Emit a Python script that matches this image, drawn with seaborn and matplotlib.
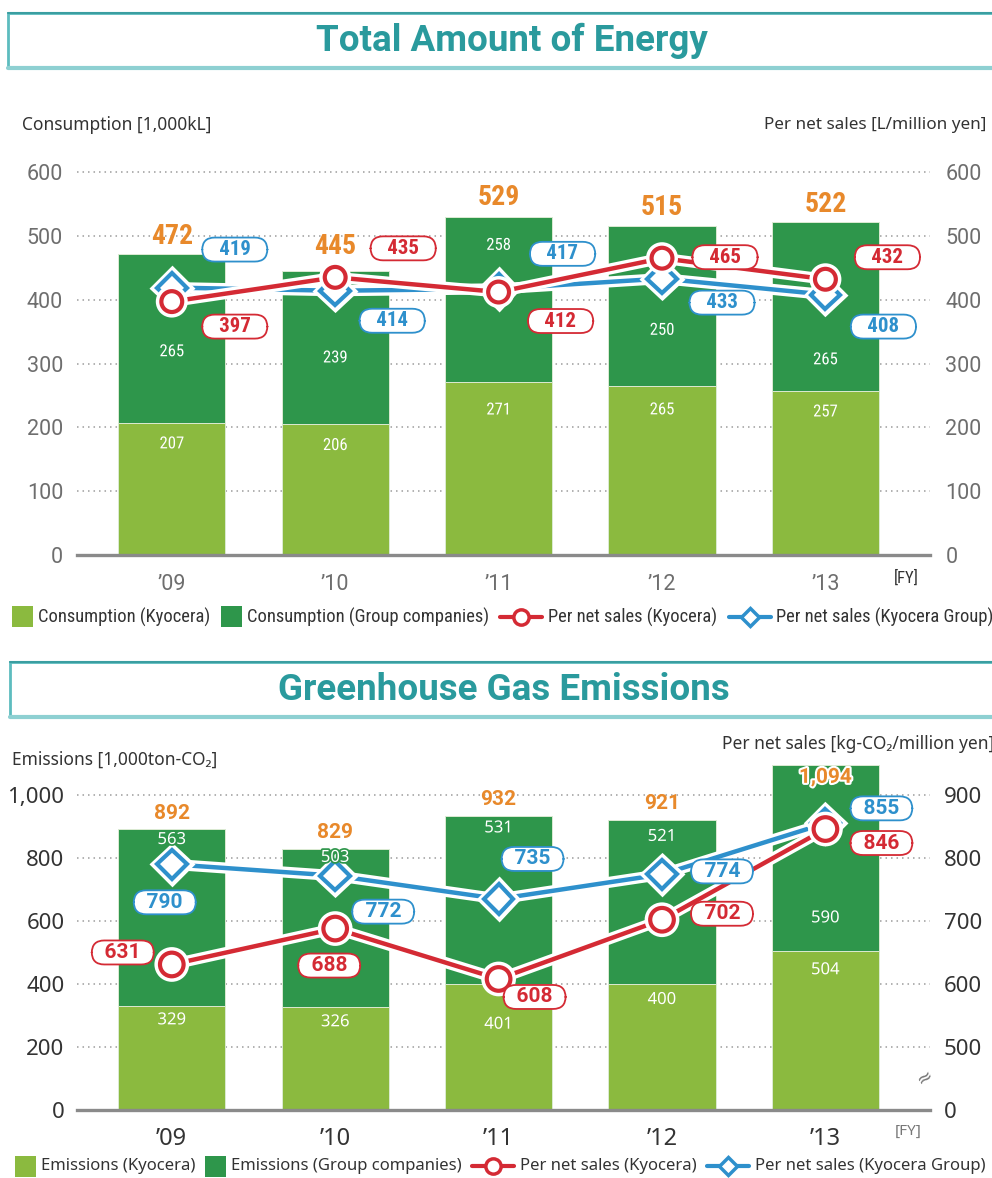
import numpy as np
import matplotlib
matplotlib.use("Agg")
import matplotlib.pyplot as plt
import matplotlib.patheffects as pe
import matplotlib.transforms as mtransforms
from matplotlib.lines import Line2D
from matplotlib.patches import Rectangle
import seaborn as sns

sns.set_theme(style="white")
COND = ["Roboto Condensed", "DejaVu Sans"]
ROBOTO = ["Roboto", "DejaVu Sans"]
SANS = ["Noto Sans", "DejaVu Sans"]
plt.rcParams["font.family"] = SANS

# ---------------- data ----------------
years = ["\u201909", "\u201910", "\u201911", "\u201912", "\u201913"]

energy_kyocera = [207, 206, 271, 265, 257]
energy_group = [265, 239, 258, 250, 265]
energy_total = [472, 445, 529, 515, 522]
energy_per_sales_kyocera = [397, 435, 412, 465, 432]
energy_per_sales_group = [419, 414, 417, 433, 408]

ghg_kyocera = [329, 326, 401, 400, 504]
ghg_group = [563, 503, 531, 521, 590]
ghg_total = [892, 829, 932, 921, 1094]
ghg_per_sales_kyocera = [631, 688, 608, 702, 846]
ghg_per_sales_group = [790, 772, 735, 774, 855]

# ---------------- colours ----------------
LIGHT = "#8BBA3F"
DARK = "#2E964B"
RED = "#D42A34"
BLUE = "#2E90CC"
ORANGE = "#E8892B"
TEAL = "#2A9A9D"
BOX_EDGE = "#5DBCBF"
BOX_TOP = "#3A9EA1"
BOX_SHADOW = "#8ED0D2"
GRID = "#9C9C9C"
TXT = "#333333"

W, H = 992, 1178
fig = plt.figure(figsize=(W / 100, H / 100), dpi=100)


def fx(px):
    return px / W


def fy(py):
    return 1 - py / H


def title_box(y_top, y_bot, x_left, text, text_x):
    fig.add_artist(Rectangle((fx(x_left), fy(y_bot)), 1.2, (y_bot - y_top) / H,
                             transform=fig.transFigure, facecolor="white",
                             edgecolor=BOX_EDGE, lw=2))
    fig.add_artist(Line2D([fx(x_left), 1.0], [fy(y_bot + 1), fy(y_bot + 1)],
                          color=BOX_SHADOW, lw=3, transform=fig.transFigure))
    fig.add_artist(Line2D([fx(x_left), 1.0], [fy(y_top), fy(y_top)],
                          color=BOX_TOP, lw=1.5, transform=fig.transFigure))
    fig.text(fx(text_x), fy((y_top + y_bot) / 2 + 1), text, ha="center", va="center",
             fontsize=26.5, fontweight="bold", color=TEAL, family=ROBOTO)


def legend_row(y, items, font, fs, x0, box=21, line_len=42, gap=8):
    renderer = fig.canvas.get_renderer()
    x = x0
    for kind, color, label, marker, ms in items:
        if kind == "box":
            fig.add_artist(Rectangle((fx(x), fy(y + box / 2)), box / W, box / H,
                                     transform=fig.transFigure, fc=color, ec="none"))
            x += box + 5
        else:
            fig.add_artist(Line2D([fx(x), fx(x + line_len)], [fy(y), fy(y)],
                                  transform=fig.transFigure, color=color, lw=3))
            fig.add_artist(Line2D([fx(x + line_len / 2)], [fy(y)], transform=fig.transFigure,
                                  marker=marker, ms=ms, mfc="white", mec=color, mew=2.5,
                                  linestyle="none"))
            x += line_len + 6
        t = fig.text(fx(x), fy(y), label, ha="left", va="center", fontsize=fs,
                     color=TXT, family=font)
        x += t.get_window_extent(renderer).width + gap


def panel(rect, ylim, yticks, ylabels, twin_ylim, twin_ticks, twin_labels,
          kyo, grp, tot, red, blue, st):
    ax = fig.add_axes(rect)
    x = np.arange(len(years))
    sns.barplot(x=years, y=tot, color=DARK, saturation=1, width=0.655,
                edgecolor="#DCEBD3", linewidth=0.7, ax=ax)
    sns.barplot(x=years, y=kyo, color=LIGHT, saturation=1, width=0.655,
                edgecolor="#DCEBD3", linewidth=0.7, ax=ax)
    ax.set_ylim(*ylim)
    ax.set_yticks(yticks)
    ax.set_yticklabels(ylabels)
    ax.set_axisbelow(True)
    ax.yaxis.grid(True, color=GRID, linestyle=(0, (1, 2.6)), linewidth=1.1)
    ax.xaxis.grid(False)
    for s in ("top", "left", "right"):
        ax.spines[s].set_visible(False)
    ax.spines["bottom"].set_color("#8A8A8A")
    ax.spines["bottom"].set_linewidth(2.4)
    ax.tick_params(axis="y", length=0, pad=st["ypad"], labelsize=st["tick_fs"],
                   labelcolor=st["tick_color"])
    ax.tick_params(axis="x", length=0, pad=st["xpad"], labelsize=st["xtick_fs"],
                   labelcolor=st["xtick_color"])
    for lab in ax.get_xticklabels() + ax.get_yticklabels():
        lab.set_family(st["tick_font"])
    ax.set_xlabel("")
    ax.set_ylabel("")

    # per-net-sales lines on the secondary axis
    ax2 = ax.twinx()
    halo = [pe.Stroke(linewidth=8, foreground="white"), pe.Normal()]
    sns.lineplot(x=x, y=blue, ax=ax2, color=BLUE, linewidth=3.2, marker="D",
                 markersize=st["dms"], markerfacecolor="white", markeredgecolor=BLUE,
                 markeredgewidth=3, path_effects=halo, zorder=3)
    sns.lineplot(x=x, y=red, ax=ax2, color=RED, linewidth=3.2, marker="o",
                 markersize=st["cms"], markerfacecolor="white", markeredgecolor=RED,
                 markeredgewidth=3, path_effects=halo, zorder=4)
    ax2.set_ylim(*twin_ylim)
    ax2.set_yticks(twin_ticks)
    ax2.set_yticklabels(twin_labels)
    ax2.tick_params(axis="y", length=0, pad=st["ypad2"], labelsize=st["tick_fs"],
                    labelcolor=st["tick_color"])
    for lab in ax2.get_yticklabels():
        lab.set_family(st["tick_font"])
    for s in ax2.spines.values():
        s.set_visible(False)
    ax2.grid(False)
    ax2.set_xlabel("")
    ax2.set_ylabel("")

    # stacked-bar value labels (placed in bar coordinates, drawn above the lines)
    for i in range(len(years)):
        t = ax2.annotate(f"{tot[i]:,}", xy=(i, tot[i]), xycoords=ax.transData,
                         xytext=(0, st["tot_dy"][i]), textcoords="offset pixels",
                         ha="center", va="center", fontsize=st["tot_fs"],
                         fontweight="bold", color=ORANGE, family=st["bold_font"],
                         annotation_clip=False, zorder=5)
        if st["tot_dy"][i] < 0:
            t.set_path_effects([pe.withStroke(linewidth=3, foreground="white")])
        ax2.annotate(f"{grp[i]}", xy=(i, tot[i]), xycoords=ax.transData,
                     xytext=(0, st["grp_dy"][i]), textcoords="offset pixels",
                     ha="center", va="center", fontsize=st["in_fs"], color="white",
                     family=st["in_font"], zorder=5,
                     path_effects=[pe.withStroke(linewidth=2.5, foreground=DARK)])
        ax2.annotate(f"{kyo[i]}", xy=(i, kyo[i]), xycoords=ax.transData,
                     xytext=(0, st["kyo_dy"][i]), textcoords="offset pixels",
                     ha="center", va="center", fontsize=st["in_fs"], color="white",
                     family=st["in_font"], zorder=5,
                     path_effects=[pe.withStroke(linewidth=2.5, foreground=LIGHT)])

    pad = st["pad"]
    for vals, offs, color in ((blue, st["blue_box"], BLUE), (red, st["red_box"], RED)):
        for i, v in enumerate(vals):
            ax2.annotate(f"{pad}{v}{pad}", xy=(i, v), xytext=offs[i],
                         textcoords="offset pixels", ha="center", va="center",
                         fontsize=st["box_fs"], fontweight="bold", color=color,
                         family=st["bold_font"], annotation_clip=False, zorder=6,
                         bbox=dict(boxstyle="round,pad=0.12,rounding_size=0.6",
                                   fc="white", ec=color, lw=1.3))
    ax.set_xlim(-0.58, 4.64)
    ax2.set_xlim(-0.58, 4.64)
    return ax, ax2


# ---------------- Total Amount of Energy ----------------
title_box(13, 67, 8, "Total Amount of Energy", 512)

top_style = dict(
    tick_font=ROBOTO, bold_font=COND, in_font=COND,
    tick_fs=15.5, tick_color="#6E6E6E", xtick_fs=15.5, xtick_color="#6E6E6E",
    ypad=10, ypad2=11, xpad=14, tot_fs=20, in_fs=12, box_fs=15, pad="   ",
    dms=15, cms=15,
    tot_dy=[17, 24, 20, 19, 17],
    grp_dy=[-98, -87, -28, -104, -138],
    kyo_dy=[-21, -22, -28, -24, -21],
    red_box=[(63, -25), (68, 29), (62, -29), (63, 1), (62, 22)],
    blue_box=[(63, 38), (57, -30), (64, 35), (60, -24), (58, -32)],
)
top_rect = [fx(77), fy(555), 853 / W, (610 * 0.6383) / H]
panel(top_rect, (0, 610), list(range(0, 601, 100)), [str(v) for v in range(0, 601, 100)],
      (0, 610), list(range(0, 601, 100)), [str(v) for v in range(0, 601, 100)],
      energy_kyocera, energy_group, energy_total,
      energy_per_sales_kyocera, energy_per_sales_group, top_style)

fig.text(fx(22), fy(125), "Consumption [1,000kL]", ha="left", va="center",
         fontsize=12.5, color=TXT, family=SANS)
fig.text(fx(986), fy(125), "Per net sales [L/million yen]", ha="right", va="center",
         fontsize=12.3, color=TXT, family=SANS)
fig.text(fx(906), fy(578), "[FY]", ha="center", va="center", fontsize=12,
         color=TXT, family=COND)

legend_row(617, [
    ("box", LIGHT, "Consumption (Kyocera)", None, 0),
    ("box", DARK, "Consumption (Group companies)", None, 0),
    ("line", RED, "Per net sales (Kyocera)", "o", 11),
    ("line", BLUE, "Per net sales (Kyocera Group)", "D", 9),
], COND, 13.3, 12, gap=11)

# ---------------- Greenhouse Gas Emissions ----------------
title_box(662, 716, 10, "Greenhouse Gas Emissions", 504)

bot_style = dict(
    tick_font=SANS, bold_font=ROBOTO, in_font=SANS,
    tick_fs=16, tick_color="#333333", xtick_fs=17, xtick_color="#333333",
    ypad=9, ypad2=10, xpad=12, tot_fs=15, in_fs=12, box_fs=15, pad="  ",
    dms=15, cms=17,
    tot_dy=[16, 16, 17, 16, -12],
    grp_dy=[-11, -9, -12, -17, -153],
    kyo_dy=[-14, -15, -41, -16, -19],
    red_box=[(-49, 12), (-6, -37), (36, -18), (60, 6), (56, -14)],
    blue_box=[(-7, -38), (48, -36), (34, 40), (60, 3), (56, 15)],
)
bot_rect = [fx(77), fy(1110), 853 / W, (1100 * 0.315) / H]
ax_b, ax_b2 = panel(bot_rect, (0, 1100), list(range(0, 1001, 200)),
                    [f"{v:,}" for v in range(0, 1001, 200)],
                    (400, 950), [400, 500, 600, 700, 800, 900],
                    ["0", "500", "600", "700", "800", "900"],
                    ghg_kyocera, ghg_group, ghg_total,
                    ghg_per_sales_kyocera, ghg_per_sales_group, bot_style)

# axis break mark on the secondary scale
brk = mtransforms.blended_transform_factory(ax_b2.transAxes, ax_b2.transData)
ax_b2.text(0.994, 452, "\u2248", transform=brk, rotation=35, ha="center", va="center",
           fontsize=14, color="#777777", family=SANS)

fig.text(fx(12), fy(760), "Emissions [1,000ton-CO\u2082]", ha="left", va="center",
         fontsize=12.5, color=TXT, family=SANS)
fig.text(fx(994), fy(744), "Per net sales [kg-CO\u2082/million yen]", ha="right",
         va="center", fontsize=12.5, color=TXT, family=SANS)
fig.text(fx(908), fy(1131), "[FY]", ha="center", va="center", fontsize=11,
         color="#777777", family=SANS)

legend_row(1166, [
    ("box", LIGHT, "Emissions (Kyocera)", None, 0),
    ("box", DARK, "Emissions (Group companies)", None, 0),
    ("line", RED, "Per net sales (Kyocera)", "o", 11),
    ("line", BLUE, "Per net sales (Kyocera Group)", "D", 9),
], SANS, 12, 15, gap=10)

fig.savefig("out.png", dpi=100, facecolor="white")
